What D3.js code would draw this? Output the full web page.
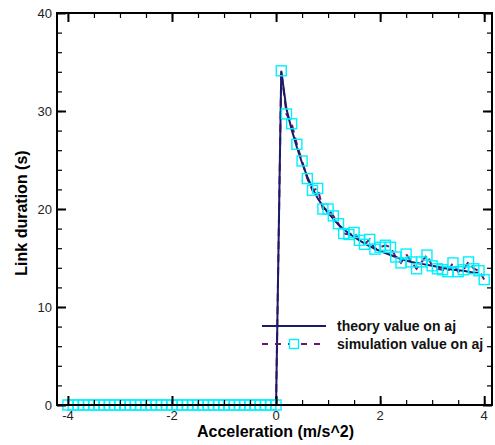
<!DOCTYPE html>
<html>
<head>
<meta charset="utf-8">
<script src="https://cdn.jsdelivr.net/npm/d3@7"></script>
<style>
  html, body { margin: 0; padding: 0; background: #fff; }
  svg { display: block; }
</style>
</head>
<body>
<svg id="chart" width="495" height="445"></svg>
<script>
// ---- data ----
const simNegX = [-4.0,-3.9,-3.8,-3.7,-3.6,-3.5,-3.4,-3.3,-3.2,-3.1,-3.0,-2.9,-2.8,-2.7,-2.6,-2.5,-2.4,-2.3,-2.2,-2.1,-2.0,-1.9,-1.8,-1.7,-1.6,-1.5,-1.4,-1.3,-1.2,-1.1,-1.0,-0.9,-0.8,-0.7,-0.6,-0.5,-0.4,-0.3,-0.2,-0.1,0.0];
const simPosX = [0.1,0.2,0.3,0.4,0.5,0.6,0.7,0.8,0.9,1.0,1.1,1.2,1.3,1.4,1.5,1.6,1.7,1.8,1.9,2.0,2.1,2.2,2.3,2.4,2.5,2.6,2.7,2.8,2.9,3.0,3.1,3.2,3.3,3.4,3.5,3.6,3.7,3.8,3.9,4.0];
const simPosY = [34.1,29.7,28.7,26.6,24.9,23.1,21.9,22.1,20.0,20.0,19.3,18.5,17.5,17.4,17.6,16.8,16.4,16.9,15.9,16.1,16.3,16.1,15.1,14.5,15.4,14.6,13.9,14.6,15.3,14.2,13.9,13.8,13.6,14.5,13.6,13.8,14.6,13.9,13.7,12.8];
const theoryX = [-4.0,0.0,0.1,0.2,0.3,0.4,0.5,0.6,0.7,0.8,0.9,1.0,1.2,1.4,1.6,1.8,2.0,2.2,2.4,2.6,2.8,3.0,3.2,3.4,3.6,3.8,3.9];
const theoryY = [0,0,34.1,30.2,28.1,26.3,24.7,23.3,22.1,21.1,20.3,19.6,18.4,17.5,16.8,16.2,15.7,15.3,14.9,14.6,14.4,14.2,14.0,13.8,13.7,13.5,13.5];
const xTickLabels = [-4,-2,0,2,4];
const yTickLabels = [0,10,20,30,40];
const seriesNames = ["theory value on aj","simulation value on aj"];

const simNeg = simNegX.map(x => ({x, y: 0}));
const simPos = simPosX.map((x, i) => ({x, y: simPosY[i]}));
const simAll = simNeg.concat(simPos);
const theory = theoryX.map((x, i) => ({x, y: theoryY[i]}));

// ---- layout ----
const L = 57, R = 492, T = 13, B = 405;
const svg = d3.select("#chart");
const x = d3.scaleLinear().domain([-4.21, 4.15]).range([L, R]);
const y = d3.scaleLinear().domain([0, 40]).range([B, T]);

const navy = "#1b1b6b", purple = "#661a66", cyan = "#00f0ff";
const font = "Liberation Sans, Arial, sans-serif";

// lines
const line = d3.line().x(d => x(d.x)).y(d => y(d.y));
svg.append("path").datum(simAll).attr("d", line)
  .attr("fill", "none").attr("stroke", purple).attr("stroke-width", 2)
  .attr("stroke-dasharray", "8,5");
svg.append("path").datum(theory).attr("d", line)
  .attr("fill", "none").attr("stroke", navy).attr("stroke-width", 2);

// markers
svg.append("g").selectAll("rect").data(simAll).join("rect")
  .attr("x", d => x(d.x) - 5).attr("y", d => y(d.y) - 5)
  .attr("width", 10).attr("height", 10)
  .attr("fill", "none").attr("stroke", cyan).attr("stroke-width", 1.4);

// axes (ticks inward on all four sides)
const majorX = d3.range(-4, 4.01, 2), minorX = d3.range(-4, 4.01, 0.5);
const majorY = d3.range(0, 40.01, 10), minorY = d3.range(0, 40.01, 2);
function axisTicks(axisGen, sel, major, minor) {
  sel.append("g").call(axisGen.tickValues(minor).tickSize(5).tickFormat(""))
    .call(g => g.select(".domain").remove())
    .call(g => g.selectAll("line").attr("stroke", "#000").attr("stroke-width", 1.2));
  sel.append("g").call(axisGen.tickValues(major).tickSize(9).tickFormat(""))
    .call(g => g.select(".domain").remove())
    .call(g => g.selectAll("line").attr("stroke", "#000").attr("stroke-width", 2));
}
axisTicks(d3.axisTop(x), svg.append("g").attr("transform", `translate(0,${B})`), majorX, minorX);
axisTicks(d3.axisBottom(x), svg.append("g").attr("transform", `translate(0,${T})`), majorX, minorX);
axisTicks(d3.axisRight(y), svg.append("g").attr("transform", `translate(${L},0)`), majorY, minorY);
axisTicks(d3.axisLeft(y), svg.append("g").attr("transform", `translate(${R},0)`), majorY, minorY);

// frame
svg.append("rect").attr("x", L).attr("y", T).attr("width", R - L).attr("height", B - T)
  .attr("fill", "none").attr("stroke", "#000").attr("stroke-width", 2);

// tick labels
svg.append("g").selectAll("text").data(xTickLabels).join("text")
  .attr("x", d => x(d)).attr("y", B + 15)
  .attr("text-anchor", "middle").attr("font-family", font).attr("font-size", 13)
  .attr("fill", "#222").text(d => d);
svg.append("g").selectAll("text").data(yTickLabels).join("text")
  .attr("x", L - 5).attr("y", d => y(d) + 4.5)
  .attr("text-anchor", "end").attr("font-family", font).attr("font-size", 13)
  .attr("fill", "#222").text(d => d);

// axis titles
svg.append("text").attr("x", (L + R) / 2 + 1).attr("y", 437)
  .attr("text-anchor", "middle").attr("font-family", font).attr("font-size", 16)
  .attr("font-weight", "bold").text("Acceleration (m/s^2)");
svg.append("text").attr("transform", `translate(27,${(T + B) / 2 + 4}) rotate(-90)`)
  .attr("text-anchor", "middle").attr("font-family", font).attr("font-size", 16)
  .attr("font-weight", "bold").text("Link duration (s)");

// legend
const lg = svg.append("g");
lg.append("line").attr("x1", 262).attr("x2", 326).attr("y1", 326).attr("y2", 326)
  .attr("stroke", navy).attr("stroke-width", 2);
lg.append("line").attr("x1", 262).attr("x2", 326).attr("y1", 344).attr("y2", 344)
  .attr("stroke", purple).attr("stroke-width", 2).attr("stroke-dasharray", "6,7");
lg.append("rect").attr("x", 289.5).attr("y", 339.5).attr("width", 9).attr("height", 9)
  .attr("fill", "#fff").attr("stroke", cyan).attr("stroke-width", 1.4);
lg.selectAll("text.lbl").data(seriesNames).join("text").attr("class", "lbl")
  .attr("x", 337).attr("y", (d, i) => 331 + i * 18)
  .attr("font-family", font).attr("font-size", 14).attr("font-weight", "bold")
  .attr("fill", "#111").text(d => d);
</script>
</body>
</html>
